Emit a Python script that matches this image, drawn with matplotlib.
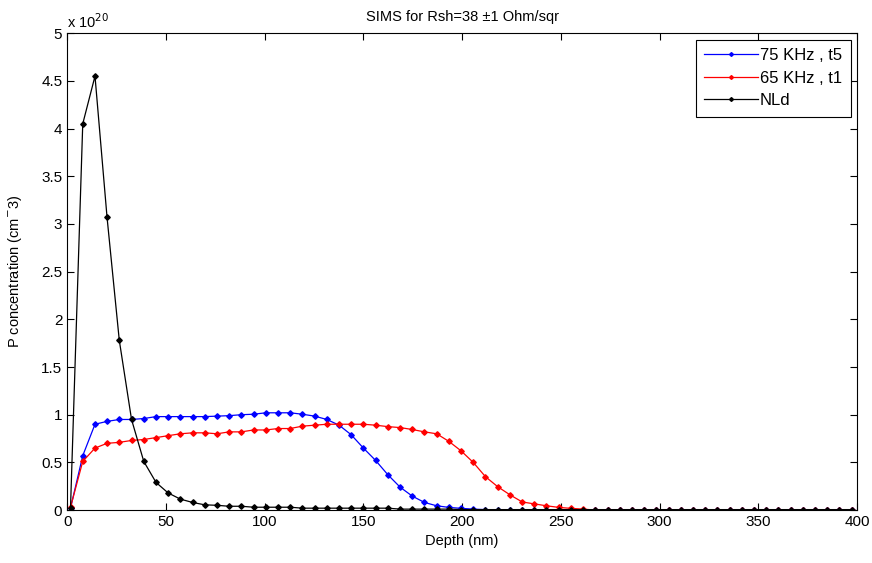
import matplotlib
matplotlib.use('Agg')
import matplotlib.pyplot as plt

plt.rcParams['font.family'] = ['Liberation Sans', 'DejaVu Sans']

# depth grid (nm), shared by all three profiles
depth = [1.7, 7.9, 14.1, 20.2, 26.4, 32.6, 38.8, 45.0, 51.1, 57.3,
         63.5, 69.7, 75.9, 82.0, 88.2, 94.4, 100.6, 106.8, 112.9, 119.1,
         125.3, 131.5, 137.7, 143.8, 150.0, 156.2, 162.4, 168.6, 174.7, 180.9,
         187.1, 193.3, 199.5, 205.6, 211.8, 218.0, 224.2, 230.4, 236.5, 242.7,
         248.9, 255.1, 261.3, 267.4, 273.6, 279.8, 286.0, 292.2, 298.3, 304.5,
         310.7, 316.9, 323.1, 329.2, 335.4, 341.6, 347.8, 354.0, 360.1, 366.3,
         372.5, 378.7, 384.9, 391.0, 397.2]

# concentrations in units of 1e20 cm^-3
p_75khz = [0.02, 0.57, 0.90, 0.93, 0.95, 0.95, 0.96, 0.98, 0.98, 0.98,
           0.98, 0.98, 0.985, 0.99, 1.0, 1.005, 1.02, 1.02, 1.02, 1.005,
           0.985, 0.95, 0.89, 0.79, 0.65, 0.52, 0.37, 0.24, 0.147, 0.08,
           0.045, 0.028, 0.018, 0.01, 0.005, 0.0, 0.0, 0.0, 0.0, 0.0,
           0.0, 0.0, 0.0, 0.0, 0.0, 0.0, 0.0, 0.0, 0.0, 0.0,
           0.0, 0.0, 0.0, 0.0, 0.0, 0.0, 0.0, 0.0, 0.0, 0.0,
           0.0, 0.0, 0.0, 0.0, 0.0]
p_65khz = [0.03, 0.51, 0.65, 0.70, 0.71, 0.73, 0.74, 0.76, 0.78, 0.80,
           0.81, 0.81, 0.80, 0.82, 0.82, 0.84, 0.84, 0.855, 0.855, 0.88,
           0.89, 0.90, 0.90, 0.90, 0.90, 0.89, 0.875, 0.865, 0.845, 0.82,
           0.80, 0.72, 0.62, 0.50, 0.35, 0.245, 0.16, 0.085, 0.065, 0.045,
           0.028, 0.018, 0.01, 0.0, 0.0, 0.0, 0.0, 0.0, 0.0, 0.0,
           0.0, 0.0, 0.0, 0.0, 0.0, 0.0, 0.0, 0.0, 0.0, 0.0,
           0.0, 0.0, 0.0, 0.0, 0.0]
p_nld = [0.02, 4.05, 4.55, 3.07, 1.78, 0.95, 0.51, 0.29, 0.18, 0.115,
         0.08, 0.055, 0.05, 0.04, 0.04, 0.03, 0.03, 0.03, 0.03, 0.02,
         0.02, 0.02, 0.02, 0.02, 0.02, 0.02, 0.02, 0.01, 0.01, 0.01,
         0.01, 0.01, 0.005, 0.005, 0.005, 0.005, 0.005, 0.005, 0.005, 0.005,
         0.005, 0.005, 0.005, 0.005, 0.005, 0.005, 0.005, 0.005, 0.005, 0.005,
         0.005, 0.005, 0.005, 0.005, 0.005, 0.005, 0.005, 0.005, 0.005, 0.005,
         0.005, 0.005, 0.005, 0.005, 0.005]

series = [(p_75khz, '#0000ff', '75 KHz , t5'),
          (p_65khz, '#ff0000', '65 KHz , t1'),
          (p_nld, '#000000', 'NLd')]

fig = plt.figure(figsize=(8.72, 5.63), dpi=100)
ax = fig.add_axes([0.077, 0.094, 0.906, 0.847])

for vals, col, lab in series:
    ax.plot(depth, vals, '-', color=col, marker='D', markersize=2.8, lw=0.9, label=lab)

ax.set_xlim(0, 400)
ax.set_ylim(0, 5)
ax.set_xticks(range(0, 401, 50))
ax.set_yticks([0, 0.5, 1, 1.5, 2, 2.5, 3, 3.5, 4, 4.5, 5])
ax.set_yticklabels(['0', '0.5', '1', '1.5', '2', '2.5', '3', '3.5', '4', '4.5', '5'])
ax.tick_params(direction='in', top=True, right=True, labelsize=11, length=5, width=0.8)
for s in ax.spines.values():
    s.set_linewidth(0.8)

ax.text(0.0, 1.005, r'x 10$^{20}$', transform=ax.transAxes, fontsize=10.5, va='bottom', ha='left')
ax.set_xlabel('Depth (nm)', fontsize=10.5, labelpad=4)
ax.set_ylabel(r'P concentration (cm$^{-}$3)', fontsize=10.5, labelpad=12)
ax.set_title('SIMS for Rsh=38 \u00b11 Ohm/sqr', fontsize=10.5, pad=9)

leg = ax.legend(loc='upper right', fontsize=12, fancybox=False, framealpha=1,
                edgecolor='black', borderaxespad=0.4, handlelength=3.2, handletextpad=0.15,
                labelspacing=0.45, borderpad=0.5, markerscale=0.7)
leg.get_frame().set_linewidth(0.8)

fig.savefig('out.png', dpi=100)
